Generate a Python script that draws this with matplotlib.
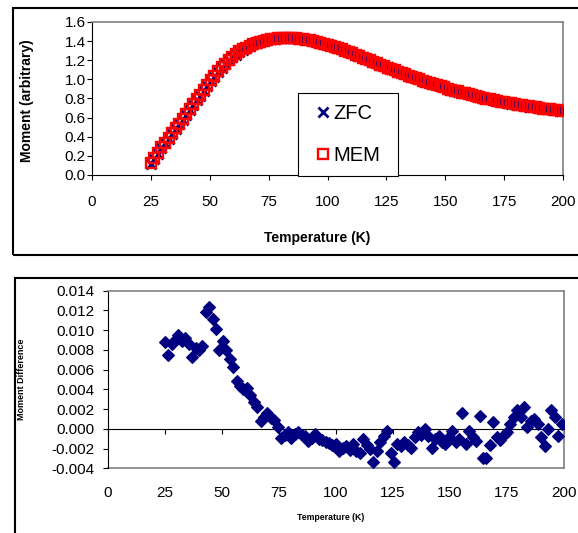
import numpy as np
import matplotlib
matplotlib.use("Agg")
import matplotlib.pyplot as plt
from matplotlib.patches import Rectangle
from matplotlib.ticker import FormatStrFormatter

plt.rcParams['font.family'] = ['Liberation Sans', 'DejaVu Sans']
plt.rcParams['axes.unicode_minus'] = False

# Temperature sweep (K), 1.5 K steps from 25 K
temperature = np.arange(25, 200, 1.5)

# Zero-field-cooled moment (arbitrary units)
zfc_moment = [
    0.12, 0.17, 0.22, 0.28, 0.33, 0.38, 0.43, 0.48, 0.53, 0.58,
    0.63, 0.68, 0.73, 0.78, 0.83, 0.88, 0.93, 0.98, 1.03, 1.08,
    1.12, 1.16, 1.20, 1.23, 1.26, 1.29, 1.31, 1.33, 1.35, 1.37,
    1.38, 1.39, 1.40, 1.41, 1.42, 1.425, 1.43, 1.43, 1.435, 1.435,
    1.43, 1.43, 1.425, 1.42, 1.415, 1.41, 1.40, 1.395, 1.385, 1.375,
    1.365, 1.355, 1.343, 1.330, 1.317, 1.303, 1.289, 1.275, 1.260, 1.245,
    1.230, 1.215, 1.200, 1.185, 1.170, 1.155, 1.140, 1.125, 1.110, 1.096,
    1.082, 1.068, 1.054, 1.040, 1.027, 1.014, 1.001, 0.988, 0.975, 0.963,
    0.951, 0.939, 0.927, 0.916, 0.903, 0.893, 0.883, 0.873, 0.864, 0.855,
    0.846, 0.837, 0.828, 0.818, 0.809, 0.800, 0.792, 0.784, 0.776, 0.768,
    0.761, 0.754, 0.747, 0.740, 0.734, 0.728, 0.722, 0.716, 0.711, 0.706,
    0.701, 0.696, 0.691, 0.686, 0.681, 0.677, 0.673,
]

# Memory minus ZFC moment
moment_difference = [
    0.0088, 0.0075, 0.0086, 0.0090, 0.0095, 0.0089, 0.0092, 0.0086, 0.0073, 0.0082,
    0.0080, 0.0084, 0.0118, 0.0123, 0.0111, 0.0101, 0.0080, 0.0089, 0.0080, 0.0071,
    0.0063, 0.0048, 0.0043, 0.0040, 0.0041, 0.0034, 0.0027, 0.0022, 0.0008, 0.0012,
    0.0016, 0.0011, 0.0009, 0.0002, -0.0009, -0.0006, -0.0003, -0.0009, -0.0005, -0.0003,
    -0.0006, -0.0007, -0.0012, -0.0009, -0.0005, -0.0010, -0.0011, -0.0013, -0.0014, -0.0016,
    -0.0015, -0.0022, -0.0019, -0.0017, -0.0021, -0.0015, -0.0022, -0.0024, -0.0010, -0.0016,
    -0.0020, -0.0034, -0.0022, -0.0013, -0.0007, -0.0002, -0.0024, -0.0034, -0.0015, -0.0017,
    -0.0013, -0.0016, -0.0019, -0.0008, -0.0003, -0.0006, 0.0000, -0.0007, -0.0019, -0.0010,
    -0.0007, -0.0013, -0.0015, -0.0008, -0.0002, -0.0013, -0.0010, 0.0016, -0.0015, -0.0002,
    -0.0008, -0.0012, 0.0013, -0.0030, -0.0030, -0.0016, 0.0007, -0.0008, -0.0011, -0.0006,
    -0.0003, 0.0005, 0.0012, 0.0019, 0.0012, 0.0022, 0.0002, 0.0008, 0.0010, 0.0005,
    -0.0008, -0.0017, 0.0000, 0.0019, 0.0012, -0.0007, 0.0005,
]

# Field-cooled memory curve
mem_moment = np.array(zfc_moment) + np.array(moment_difference)

x_ticks = [0, 25, 50, 75, 100, 125, 150, 175, 200]
top_y_ticks = [0.0, 0.2, 0.4, 0.6, 0.8, 1.0, 1.2, 1.4, 1.6]
bottom_y_ticks = [-0.004, -0.002, 0.000, 0.002, 0.004, 0.006, 0.008, 0.010, 0.012, 0.014]

NAVY = '#000080'
RED = '#FF0000'
GRAY = '#808080'
W, H = 578, 533

fig = plt.figure(figsize=(W / 100, H / 100), dpi=100)


def frac(x0, y0, x1, y1):
    return [x0 / W, 1 - y1 / H, (x1 - x0) / W, (y1 - y0) / H]


# chart-area frames
fig.patches.append(Rectangle((12.7 / W, 1 - 254.5 / H), 1.2, (254.5 - 8.3) / H,
                             transform=fig.transFigure, fill=False, ec='black', lw=1.5))
fig.patches.append(Rectangle((15 / W, -0.2), 1.2, 0.2 + 1 - 278.3 / H,
                             transform=fig.transFigure, fill=False, ec='black', lw=1.5))

# ---- upper panel: moment vs temperature ----
ax1 = fig.add_axes(frac(92, 22, 563, 175))
ax1.plot(temperature, zfc_moment, ls='none', marker='x', ms=7, mew=2.0,
         color=NAVY, label='ZFC', zorder=3)
ax1.plot(temperature, mem_moment, ls='none', marker='s', ms=7.2, mfc='none',
         mec=RED, mew=1.7, label='MEM', zorder=4)
ax1.set_xlim(0, 200)
ax1.set_ylim(0, 1.6)
ax1.set_xticks(x_ticks)
ax1.set_yticks(top_y_ticks)
ax1.yaxis.set_major_formatter(FormatStrFormatter('%.1f'))
for s in ('top', 'right'):
    ax1.spines[s].set_color(GRAY)
    ax1.spines[s].set_linewidth(1.2)
for s in ('left', 'bottom'):
    ax1.spines[s].set_color('black')
    ax1.spines[s].set_linewidth(0.8)
ax1.tick_params(axis='both', direction='out', length=3.5, width=0.8, labelsize=11)
ax1.tick_params(axis='x', pad=11)
ax1.tick_params(axis='y', pad=1)

# legend box with its entries placed inside
ax1.add_patch(Rectangle((298 / W, 1 - 176 / H), 100 / W, 83 / H,
                        transform=fig.transFigure, fc='white', ec='black',
                        lw=0.8, zorder=5, clip_on=False))
leg = ax1.legend(loc='center left', bbox_to_anchor=(316.7 / W, 1 - 134.5 / H),
                 bbox_transform=fig.transFigure, borderaxespad=0, borderpad=0,
                 fontsize=14.5, frameon=False, handlelength=0.6,
                 handletextpad=0.25, labelspacing=1.1)
leg.set_zorder(6)

fig.text(317.5 / W, 1 - 238 / H, 'Temperature (K)', ha='center', va='center',
         fontsize=10, fontweight='bold')
fig.text(26.7 / W, 1 - 100.7 / H, 'Moment (arbitrary)', ha='center', va='center',
         rotation=90, fontsize=10, fontweight='bold')

# ---- lower panel: moment difference ----
ax2 = fig.add_axes(frac(107.7, 290.7, 564, 468.3))
ax2.plot(temperature, moment_difference, ls='none', marker='D', ms=6,
         color=NAVY, mec=NAVY, mew=0.8, zorder=3)
ax2.set_xlim(0, 200)
ax2.set_ylim(-0.004, 0.014)
ax2.set_xticks(x_ticks)
ax2.set_yticks(bottom_y_ticks)
ax2.yaxis.set_major_formatter(FormatStrFormatter('%.3f'))
ax2.spines['bottom'].set_position(('data', 0))
ax2.spines['bottom'].set_color('black')
ax2.spines['bottom'].set_linewidth(0.8)
ax2.spines['left'].set_color('black')
ax2.spines['left'].set_linewidth(0.8)
for s in ('top', 'right'):
    ax2.spines[s].set_color(GRAY)
    ax2.spines[s].set_linewidth(1.2)
ax2.tick_params(axis='both', direction='out', length=3.5, width=0.8, labelsize=11)
ax2.tick_params(axis='x', labelbottom=False)
ax2.tick_params(axis='y', pad=6)

sec = ax2.secondary_xaxis('bottom')
sec.set_xticks(x_ticks)
sec.tick_params(length=0, labelsize=11, pad=13)
sec.spines['bottom'].set_color(GRAY)
sec.spines['bottom'].set_linewidth(1.2)

fig.text(330.5 / W, 1 - 517 / H, 'Temperature (K)', ha='center', va='center',
         fontsize=6.3, fontweight='bold')
fig.text(21.7 / W, 1 - 379.5 / H, 'Moment Difference', ha='center', va='center',
         rotation=90, fontsize=6.5, fontweight='bold')

fig.savefig('out.png', dpi=100)
